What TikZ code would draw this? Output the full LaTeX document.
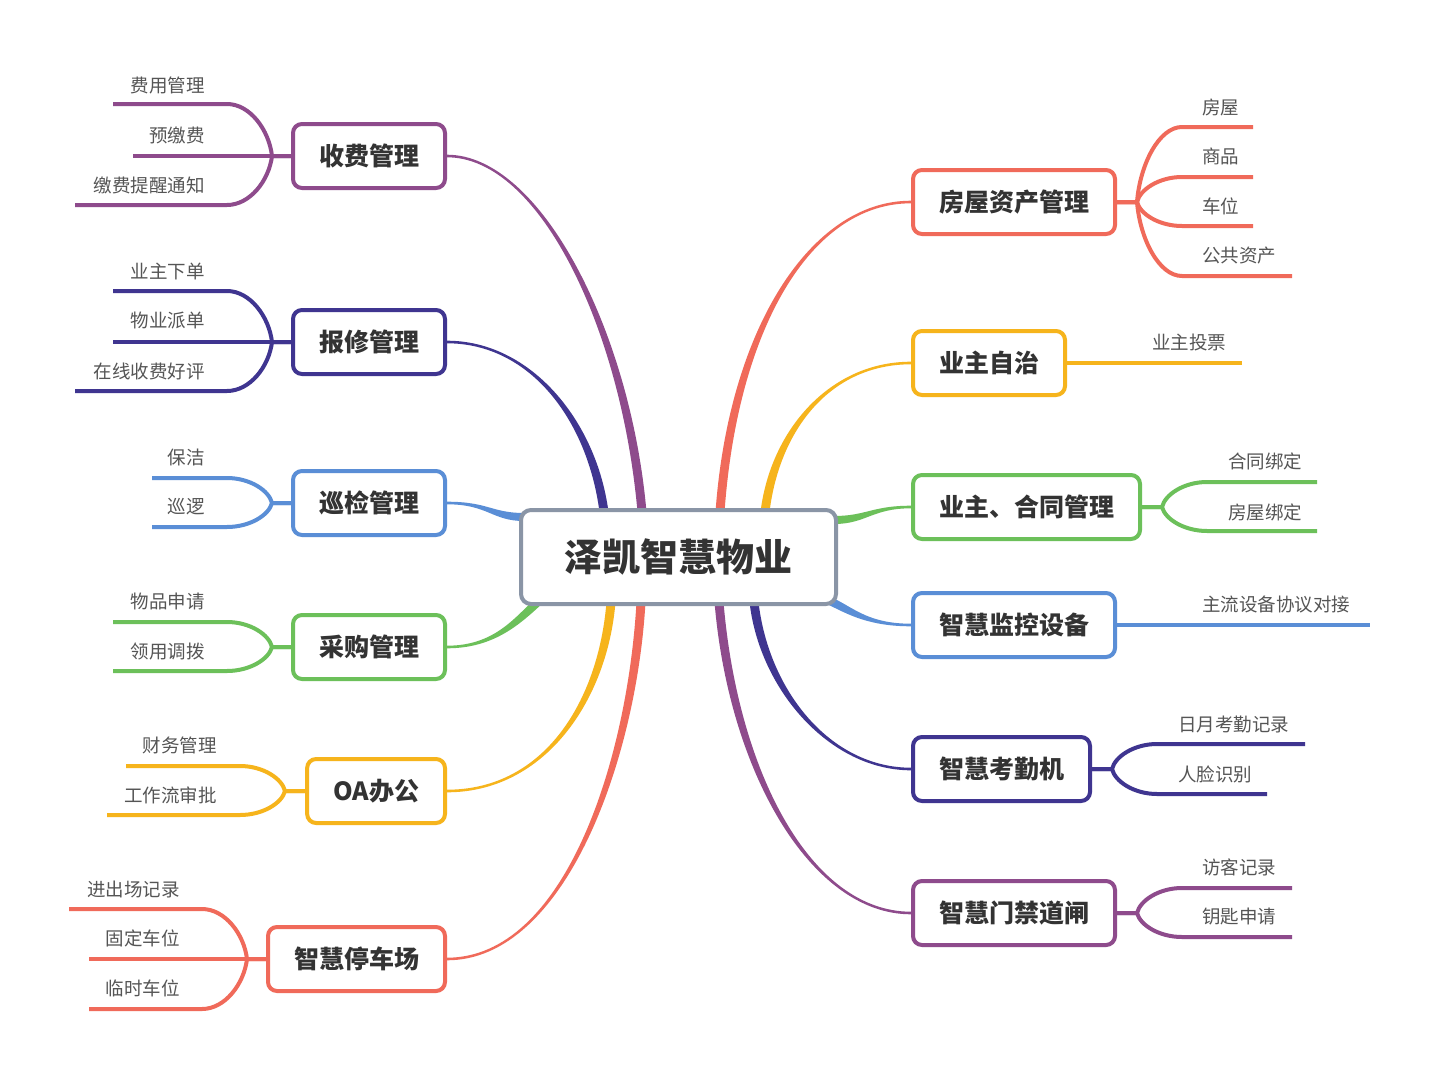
\documentclass[tikz,border=0pt]{standalone}
\usepackage{fontspec}
\setmainfont{Noto Sans CJK SC}
\usetikzlibrary{calc,backgrounds}
\definecolor{cpur}{HTML}{8E4B8C}
\definecolor{cnavy}{HTML}{3F3590}
\definecolor{cblue}{HTML}{5A8ED6}
\definecolor{cgreen}{HTML}{6CC05A}
\definecolor{cyel}{HTML}{F6B41C}
\definecolor{ccor}{HTML}{F06A5A}
\definecolor{cgray}{HTML}{8A95A6}
\definecolor{ctext}{HTML}{333333}
\definecolor{cleaf}{HTML}{555555}
\tikzset{
  mnode/.style={draw, line width=4pt, rounded corners=9pt, fill=white, minimum height=64pt,
    inner xsep=26pt, font=\bfseries\fontsize{25}{25}\selectfont, text=ctext},
  leaf/.style={line width=4pt, line join=round},
  lt/.style={font=\fontsize{18.5}{18.5}\selectfont, text=cleaf, inner sep=0pt},
}
% main tapered branch: colour, start anchor, c1, c2, end coordinate, half-width vector at end
\newcommand\mb[6]{\fill[#1] ($(#2)+(0,-1.3)$) .. controls ($(#3)+(0,-1.3)$) and ($(#4)+(#6)$) .. ($(#5)+(#6)$) -- ($(#5)-(#6)$) .. controls ($(#4)-(#6)$) and ($(#3)+(0,1.3)$) .. ($(#2)+(0,1.3)$) -- cycle;}
% left leaf curve: colour, junction x, centre y, leaf y, line start x, node
\newcommand\lc[6]{\draw[leaf,#1] (#5,#4) -- ({#2-45},#4) .. controls ({#2-22},#4) and ({#2-3},{#3+(#4-#3)*0.5}) .. (#2,#3) -- (#6.west);}
% right leaf curve: colour, junction x, centre y, leaf y, line end x, node
\newcommand\rc[6]{\draw[leaf,#1] (#6.east) -- (#2,#3) .. controls ({#2+3},{#3+(#4-#3)*0.5}) and ({#2+22},#4) .. ({#2+45},#4) -- (#5,#4);}
\newcommand\ltxt[3]{\node[lt,anchor=east] at (#1,#2) {#3};}
\newcommand\rtxt[3]{\node[lt,anchor=west] at (#1,#2) {#3};}
\begin{document}
\begin{tikzpicture}[x=1pt,y=-1pt]
\useasboundingbox (0,0) rectangle (1440,1081);
% nodes
\node[mnode, draw=cgray, minimum width=315pt, minimum height=94pt, rounded corners=10pt,
  font=\bfseries\fontsize{38}{38}\selectfont] (c) at (678.5,557) {泽凯智慧物业};
\node[mnode, draw=cpur, anchor=east] (shou) at (447,156) {收费管理};
\node[mnode, draw=cnavy, anchor=east] (bao) at (447,342) {报修管理};
\node[mnode, draw=cblue, anchor=east] (xun) at (447,503) {巡检管理};
\node[mnode, draw=cgreen, anchor=east] (cai) at (447,647) {采购管理};
\node[mnode, draw=cyel, anchor=east] (oa) at (447,791) {OA办公};
\node[mnode, draw=ccor, anchor=east] (ting) at (447,959) {智慧停车场};
\node[mnode, draw=ccor, anchor=west] (fang) at (911,202) {房屋资产管理};
\node[mnode, draw=cyel, anchor=west] (zizhi) at (911,363) {业主自治};
\node[mnode, draw=cgreen, anchor=west] (hetong) at (911,507) {业主、合同管理};
\node[mnode, draw=cblue, anchor=west] (jiankong) at (911,625) {智慧监控设备};
\node[mnode, draw=cnavy, anchor=west] (kaoqin) at (911,769) {智慧考勤机};
\node[mnode, draw=cpur, anchor=west] (menjin) at (911,913) {智慧门禁道闸};
% end points on the centre box
\coordinate (eL1) at (642,512);
\coordinate (eL2) at (604,512);
\coordinate (eL3) at (524,517);
\coordinate (eL4) at (540,600);
\coordinate (eL5) at (611,602);
\coordinate (eL6) at (641,602);
\coordinate (eR1) at (720,512);
\coordinate (eR2) at (765,512);
\coordinate (eR3) at (834,520);
\coordinate (eR4) at (832,602);
\coordinate (eR5) at (754,602);
\coordinate (eR6) at (719,602);
\begin{scope}[on background layer]
\fill[white] (0,0) rectangle (1440,1081);
\mb{cpur}{shou.east}{540,156}{626,330}{eL1}{4.5,0}
\mb{cnavy}{bao.east}{530,342}{592,420}{eL2}{4.5,0}
\mb{cblue}{xun.east}{488,503}{492,517}{eL3}{0,-4}
\mb{cgreen}{cai.east}{495,647}{518,620}{eL4}{-3,-3}
\mb{cyel}{oa.east}{545,791}{603,700}{eL5}{-4.5,0}
\mb{ccor}{ting.east}{565,959}{632,760}{eL6}{-4.5,0}
\mb{ccor}{fang.west}{810,202}{733,330}{eR1}{-4.5,0}
\mb{cyel}{zizhi.west}{830,363}{775,430}{eR2}{-4.5,0}
\mb{cgreen}{hetong.west}{872,507}{866,520}{eR3}{0,-4}
\mb{cblue}{jiankong.west}{870,625}{852,612}{eR4}{3,-3}
\mb{cnavy}{kaoqin.west}{830,769}{764,690}{eR5}{4.5,0}
\mb{cpur}{menjin.west}{810,913}{733,770}{eR6}{4.5,0}
% left leaves
\lc{cpur}{272}{156}{104}{113}{shou}
\draw[leaf,cpur] (133,156) -- (shou.west);
\lc{cpur}{272}{156}{205}{75}{shou}
\lc{cnavy}{272}{342}{291}{113}{bao}
\draw[leaf,cnavy] (113,342) -- (bao.west);
\lc{cnavy}{272}{342}{391}{75}{bao}
\lc{cblue}{272}{503}{478}{152}{xun}
\lc{cblue}{272}{503}{527}{152}{xun}
\lc{cgreen}{272}{647}{622}{113}{cai}
\lc{cgreen}{272}{647}{671}{113}{cai}
\lc{cyel}{285}{791}{766}{126}{oa}
\lc{cyel}{285}{791}{815}{107}{oa}
\lc{ccor}{247}{959}{909}{69}{ting}
\draw[leaf,ccor] (89,959) -- (ting.west);
\lc{ccor}{247}{959}{1009}{89}{ting}
% right leaves
\rc{ccor}{1137}{202}{127}{1253}{fang}
\rc{ccor}{1137}{202}{177}{1253}{fang}
\rc{ccor}{1137}{202}{226}{1253}{fang}
\rc{ccor}{1137}{202}{276}{1292}{fang}
\draw[leaf,cyel] (zizhi.east) -- (1242,363);
\rc{cgreen}{1162}{507}{482}{1317}{hetong}
\rc{cgreen}{1162}{507}{531}{1317}{hetong}
\draw[leaf,cblue] (jiankong.east) -- (1370,625);
\rc{cnavy}{1112}{769}{744}{1305}{kaoqin}
\rc{cnavy}{1112}{769}{794}{1267}{kaoqin}
\rc{cpur}{1137}{913}{888}{1292}{menjin}
\rc{cpur}{1137}{913}{937}{1292}{menjin}
\end{scope}
% leaf texts
\ltxt{205}{85}{费用管理}
\ltxt{205}{135}{预缴费}
\ltxt{205}{185}{缴费提醒通知}
\ltxt{205}{271}{业主下单}
\ltxt{205}{321}{物业派单}
\ltxt{205}{371}{在线收费好评}
\ltxt{205}{457}{保洁}
\ltxt{205}{507}{巡逻}
\ltxt{205}{601}{物品申请}
\ltxt{205}{651}{领用调拨}
\ltxt{217}{745}{财务管理}
\ltxt{217}{795}{工作流审批}
\ltxt{180}{889}{进出场记录}
\ltxt{180}{938}{固定车位}
\ltxt{180}{988}{临时车位}
\rtxt{1202}{107}{房屋}
\rtxt{1202}{156}{商品}
\rtxt{1202}{206}{车位}
\rtxt{1202}{256}{公共资产}
\rtxt{1152}{342}{业主投票}
\rtxt{1228}{461}{合同绑定}
\rtxt{1228}{512}{房屋绑定}
\rtxt{1202}{605}{主流设备协议对接}
\rtxt{1178}{724}{日月考勤记录}
\rtxt{1178}{774}{人脸识别}
\rtxt{1202}{867}{访客记录}
\rtxt{1202}{917}{钥匙申请}
\end{tikzpicture}
\end{document}
